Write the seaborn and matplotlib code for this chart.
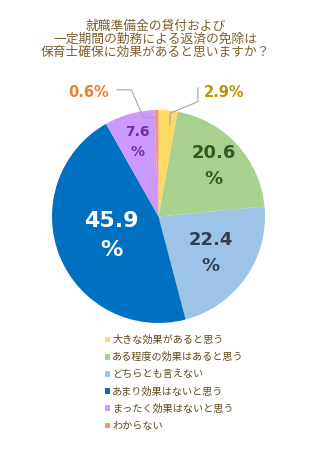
import matplotlib
matplotlib.use("Agg")
import matplotlib.pyplot as plt
import seaborn as sns
import numpy as np

sns.set_theme(style="white")
plt.rcParams['font.family'] = ['Noto Sans CJK JP', 'DejaVu Sans']

# ---- data ----
title_lines = ["就職準備金の貸付および", "一定期間の勤務による返済の免除は", "保育士確保に効果があると思いますか？"]
categories = ["大きな効果があると思う", "ある程度の効果はあると思う", "どちらとも言えない",
              "あまり効果はないと思う", "まったく効果はないと思う", "わからない"]
values = [2.9, 20.6, 22.4, 45.9, 7.6, 0.6]

# ---- style ----
colors = ["#FFD966", "#A9D18E", "#9DC3E6", "#0070C0", "#CC99FF", "#F4976C"]
label_colors = ["#BF9000", "#385723", "#333F50", "#FFFFFF", "#7030A0", "#ED7D31"]
label_sizes = [10.5, 13, 13, 16, 10, 10.5]
label_rfrac = [None, 0.70, 0.60, 0.48, 0.73, None]

W, H = 311, 450
R = 106.5
cx, cy = 158.5, 216.5

fig = plt.figure(figsize=(W / 100, H / 100), dpi=100)
ax = fig.add_axes([0, 0, 1, 1])

wedges, _ = ax.pie(values, colors=colors, startangle=90, counterclock=False,
                   radius=1.0, center=(0, 0), wedgeprops=dict(linewidth=0))
ax.set_xlim(-cx / R, (W - cx) / R)
ax.set_ylim(-(H - cy) / R, cy / R)
ax.set_aspect('equal', adjustable='box')
ax.axis('off')

# inside labels
for w, v, col, fs, rf in zip(wedges, values, label_colors, label_sizes, label_rfrac):
    if rf is None:
        continue
    mid = np.deg2rad((w.theta1 + w.theta2) / 2)
    x, y = rf * np.cos(mid), rf * np.sin(mid)
    ax.text(x, y, f"{v}\n%", ha='center', va='center', color=col, fontsize=fs,
            fontweight='bold', family=['DejaVu Sans'], linespacing=1.55)

def wedge_point(w, rfrac):
    mid = np.deg2rad((w.theta1 + w.theta2) / 2)
    return rfrac * np.cos(mid), rfrac * np.sin(mid)

# 0.6%
w = wedges[5]
lx, ly = -0.66, 1.16
ax.text(lx, ly, f"{values[5]}%", ha='center', va='center', color=label_colors[5],
        fontsize=label_sizes[5], fontweight='bold', family=['DejaVu Sans'])
px, py = wedge_point(w, 0.93)
ax.annotate("", xy=(px, py), xytext=(lx + 0.27, ly + 0.03),
            arrowprops=dict(arrowstyle='-', color='#A6A6A6', lw=0.8, shrinkA=0, shrinkB=0,
                            connectionstyle='arc,angleA=0,armA=14.4,angleB=180,armB=13.3,rad=0'))

# 2.9%
w = wedges[0]
lx, ly = 0.62, 1.16
ax.text(lx, ly, f"{values[0]}%", ha='center', va='center', color=label_colors[0],
        fontsize=label_sizes[0], fontweight='bold', family=['DejaVu Sans'])
px, py = wedge_point(w, 0.86)
ax.annotate("", xy=(px + 0.03, py), xytext=(lx - 0.25, ly + 0.05),
            arrowprops=dict(arrowstyle='-', color='#A6A6A6', lw=0.8, shrinkA=0, shrinkB=0,
                            connectionstyle='arc,angleA=-90,armA=14,angleB=90,armB=12,rad=0'))

# title
fig.text(0.5, 1 - 39.5 / H, "\n".join(title_lines), ha='center', va='center',
         color='#7A6030', fontsize=9.2, linespacing=1.02)

# legend
leg = ax.legend(wedges, categories, loc='upper left', bbox_to_anchor=(100 / W, 1 - 330 / H),
                bbox_transform=fig.transFigure, frameon=False, fontsize=7.3,
                handlelength=0.5, handleheight=0.5, handletextpad=0.2,
                labelspacing=0.7, borderpad=0)
for t in leg.get_texts():
    t.set_color('#5E4A1E')

fig.savefig("out.png", dpi=100)
